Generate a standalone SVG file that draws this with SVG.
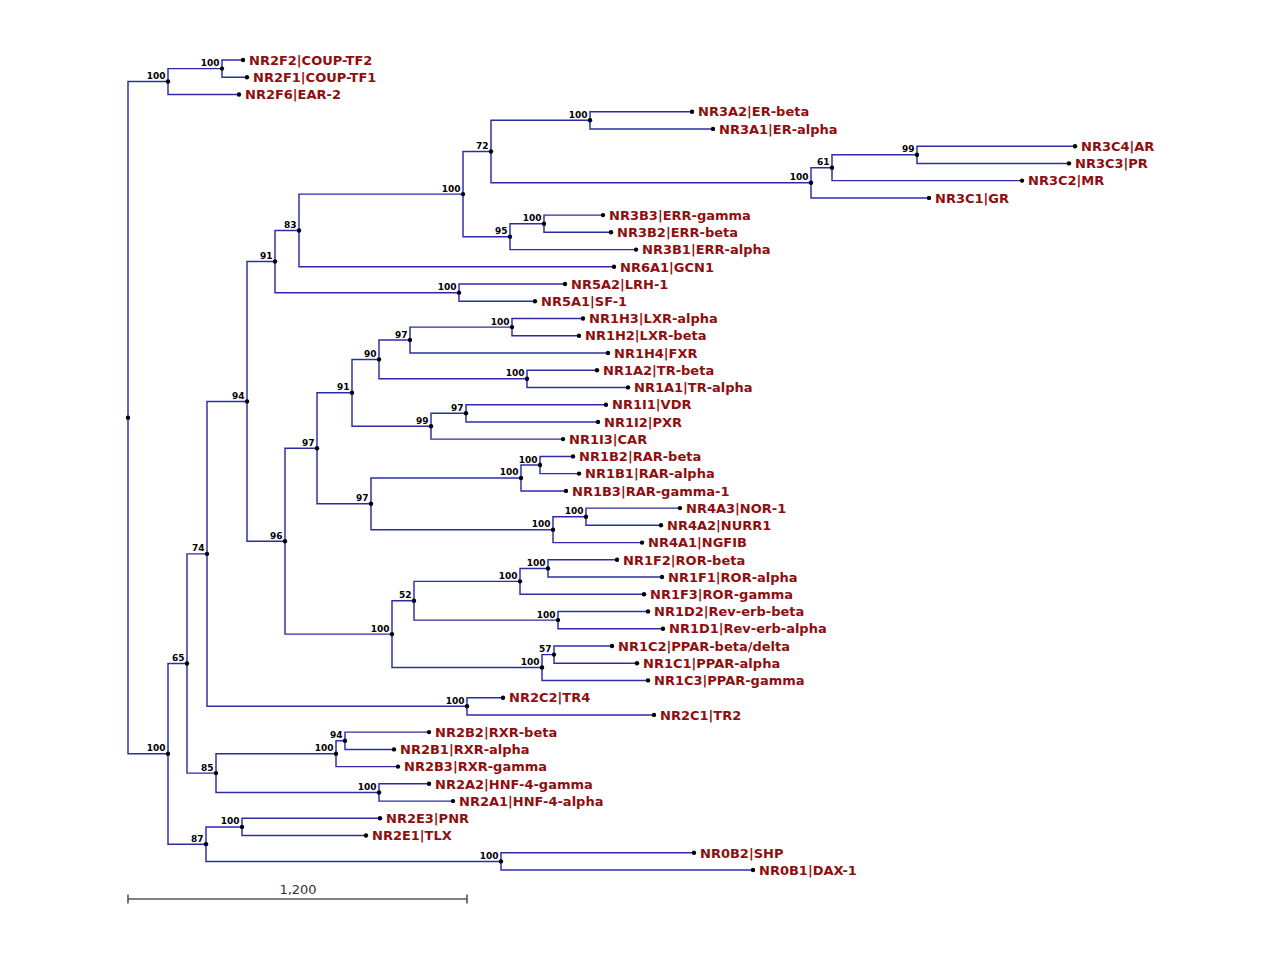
<svg xmlns="http://www.w3.org/2000/svg" width="1280" height="960" viewBox="0 0 1280 960">
<style>
.br{fill:none;stroke:#2c2ca8;stroke-width:1.45}
.dot{fill:#000}
.lf{font-family:"DejaVu Sans",sans-serif;font-weight:bold;font-size:13px;fill:#8f0e0e}
.bs{font-family:"DejaVu Sans",sans-serif;font-weight:bold;font-size:9px;fill:#000;text-anchor:end}
.sc{fill:none;stroke:#555;stroke-width:1.6}
.sct{font-family:"DejaVu Sans",sans-serif;font-size:13px;fill:#333;text-anchor:middle}
</style>
<rect width="1280" height="960" fill="#fff"/>
<g id="connectors">
<path class="br" d="M168,81.55 H128 V753.8 H168"/>
<path class="br" d="M222,68.6 H168 V94.5 H239"/>
<path class="br" d="M243,60 H222 V77.2 H247"/>
<path class="br" d="M187,663.5 H168 V844.15 H206"/>
<path class="br" d="M207,553.85 H187 V773.1 H216"/>
<path class="br" d="M247,401.4 H207 V706.3 H467"/>
<path class="br" d="M275,261.55 H247 V541.2 H285"/>
<path class="br" d="M299,230.45 H275 V292.65 H459"/>
<path class="br" d="M463,194.1 H299 V266.8 H614"/>
<path class="br" d="M491,151.55 H463 V236.65 H510"/>
<path class="br" d="M590,120.3 H491 V182.8 H811"/>
<path class="br" d="M692,111.7 H590 V128.9 H713"/>
<path class="br" d="M832,167.7 H811 V197.9 H929"/>
<path class="br" d="M917,154.8 H832 V180.6 H1022"/>
<path class="br" d="M1075,146.2 H917 V163.4 H1069"/>
<path class="br" d="M544,223.7 H510 V249.6 H636"/>
<path class="br" d="M603,215.1 H544 V232.3 H611"/>
<path class="br" d="M565,284 H459 V301.3 H535"/>
<path class="br" d="M317,448.3 H285 V634.1 H392"/>
<path class="br" d="M352,392.8 H317 V503.8 H371"/>
<path class="br" d="M379,359.4 H352 V426.2 H431"/>
<path class="br" d="M410,340.05 H379 V378.8 H527"/>
<path class="br" d="M512,327.1 H410 V353 H608"/>
<path class="br" d="M583,318.5 H512 V335.7 H579"/>
<path class="br" d="M597,370.2 H527 V387.4 H628"/>
<path class="br" d="M466,413.3 H431 V439.1 H563"/>
<path class="br" d="M606,404.7 H466 V421.9 H598"/>
<path class="br" d="M521,477.95 H371 V529.65 H553"/>
<path class="br" d="M540,465 H521 V490.9 H566"/>
<path class="br" d="M573,456.4 H540 V473.6 H579"/>
<path class="br" d="M586,516.7 H553 V542.6 H642"/>
<path class="br" d="M680,508.1 H586 V525.3 H661"/>
<path class="br" d="M414,600.7 H392 V667.5 H542"/>
<path class="br" d="M520,581.35 H414 V620.1 H558"/>
<path class="br" d="M548,568.4 H520 V594.3 H644"/>
<path class="br" d="M617,559.8 H548 V577 H662"/>
<path class="br" d="M648,611.5 H558 V628.7 H663"/>
<path class="br" d="M554,654.6 H542 V680.4 H648"/>
<path class="br" d="M612,646 H554 V663.2 H637"/>
<path class="br" d="M503,697.7 H467 V714.9 H654"/>
<path class="br" d="M336,753.7 H216 V792.45 H379"/>
<path class="br" d="M345,740.75 H336 V766.6 H398"/>
<path class="br" d="M429,732.1 H345 V749.4 H394"/>
<path class="br" d="M429,783.8 H379 V801.1 H453"/>
<path class="br" d="M242,826.9 H206 V861.4 H501"/>
<path class="br" d="M380,818.3 H242 V835.5 H366"/>
<path class="br" d="M694,852.8 H501 V870 H753"/>
</g>
<g id="internal-nodes">
<g id="n-root"><circle class="dot" cx="128" cy="417.7" r="2.2"/></g>
<g id="n-A"><circle class="dot" cx="168" cy="81.55" r="2.2"/><text class="bs" x="165.5" y="79">100</text></g>
<g id="n-B"><circle class="dot" cx="222" cy="68.6" r="2.2"/><text class="bs" x="219.5" y="66">100</text></g>
<g id="n-C"><circle class="dot" cx="168" cy="753.8" r="2.2"/><text class="bs" x="165.5" y="751.3">100</text></g>
<g id="n-D"><circle class="dot" cx="187" cy="663.5" r="2.2"/><text class="bs" x="184.5" y="661">65</text></g>
<g id="n-F"><circle class="dot" cx="207" cy="553.85" r="2.2"/><text class="bs" x="204.5" y="551.3">74</text></g>
<g id="n-M"><circle class="dot" cx="247" cy="401.4" r="2.2"/><text class="bs" x="244.5" y="398.9">94</text></g>
<g id="n-O"><circle class="dot" cx="275" cy="261.55" r="2.2"/><text class="bs" x="272.5" y="259">91</text></g>
<g id="n-Q"><circle class="dot" cx="299" cy="230.45" r="2.2"/><text class="bs" x="296.5" y="228">83</text></g>
<g id="n-S"><circle class="dot" cx="463" cy="194.1" r="2.2"/><text class="bs" x="460.5" y="191.6">100</text></g>
<g id="n-T"><circle class="dot" cx="491" cy="151.55" r="2.2"/><text class="bs" x="488.5" y="149">72</text></g>
<g id="n-V"><circle class="dot" cx="590" cy="120.3" r="2.2"/><text class="bs" x="587.5" y="117.8">100</text></g>
<g id="n-W"><circle class="dot" cx="811" cy="182.8" r="2.2"/><text class="bs" x="808.5" y="180.3">100</text></g>
<g id="n-X"><circle class="dot" cx="832" cy="167.7" r="2.2"/><text class="bs" x="829.5" y="165.2">61</text></g>
<g id="n-Y"><circle class="dot" cx="917" cy="154.8" r="2.2"/><text class="bs" x="914.5" y="152.3">99</text></g>
<g id="n-U"><circle class="dot" cx="510" cy="236.65" r="2.2"/><text class="bs" x="507.5" y="234.1">95</text></g>
<g id="n-Z"><circle class="dot" cx="544" cy="223.7" r="2.2"/><text class="bs" x="541.5" y="221.2">100</text></g>
<g id="n-R5"><circle class="dot" cx="459" cy="292.65" r="2.2"/><text class="bs" x="456.5" y="290.1">100</text></g>
<g id="n-P"><circle class="dot" cx="285" cy="541.2" r="2.2"/><text class="bs" x="282.5" y="538.7">96</text></g>
<g id="n-AA"><circle class="dot" cx="317" cy="448.3" r="2.2"/><text class="bs" x="314.5" y="445.8">97</text></g>
<g id="n-AC"><circle class="dot" cx="352" cy="392.8" r="2.2"/><text class="bs" x="349.5" y="390.3">91</text></g>
<g id="n-AE"><circle class="dot" cx="379" cy="359.4" r="2.2"/><text class="bs" x="376.5" y="356.9">90</text></g>
<g id="n-AG"><circle class="dot" cx="410" cy="340.05" r="2.2"/><text class="bs" x="407.5" y="337.5">97</text></g>
<g id="n-AI"><circle class="dot" cx="512" cy="327.1" r="2.2"/><text class="bs" x="509.5" y="324.6">100</text></g>
<g id="n-AH"><circle class="dot" cx="527" cy="378.8" r="2.2"/><text class="bs" x="524.5" y="376.3">100</text></g>
<g id="n-AF"><circle class="dot" cx="431" cy="426.2" r="2.2"/><text class="bs" x="428.5" y="423.7">99</text></g>
<g id="n-AJ"><circle class="dot" cx="466" cy="413.3" r="2.2"/><text class="bs" x="463.5" y="410.8">97</text></g>
<g id="n-AD"><circle class="dot" cx="371" cy="503.8" r="2.2"/><text class="bs" x="368.5" y="501.3">97</text></g>
<g id="n-AK"><circle class="dot" cx="521" cy="477.95" r="2.2"/><text class="bs" x="518.5" y="475.4">100</text></g>
<g id="n-AM"><circle class="dot" cx="540" cy="465" r="2.2"/><text class="bs" x="537.5" y="462.5">100</text></g>
<g id="n-AL"><circle class="dot" cx="553" cy="529.65" r="2.2"/><text class="bs" x="550.5" y="527.1">100</text></g>
<g id="n-AN"><circle class="dot" cx="586" cy="516.7" r="2.2"/><text class="bs" x="583.5" y="514.2">100</text></g>
<g id="n-AB"><circle class="dot" cx="392" cy="634.1" r="2.2"/><text class="bs" x="389.5" y="631.6">100</text></g>
<g id="n-AO"><circle class="dot" cx="414" cy="600.7" r="2.2"/><text class="bs" x="411.5" y="598.2">52</text></g>
<g id="n-AQ"><circle class="dot" cx="520" cy="581.35" r="2.2"/><text class="bs" x="517.5" y="578.8">100</text></g>
<g id="n-AS"><circle class="dot" cx="548" cy="568.4" r="2.2"/><text class="bs" x="545.5" y="565.9">100</text></g>
<g id="n-AR"><circle class="dot" cx="558" cy="620.1" r="2.2"/><text class="bs" x="555.5" y="617.6">100</text></g>
<g id="n-AP"><circle class="dot" cx="542" cy="667.5" r="2.2"/><text class="bs" x="539.5" y="665">100</text></g>
<g id="n-AT"><circle class="dot" cx="554" cy="654.6" r="2.2"/><text class="bs" x="551.5" y="652.1">57</text></g>
<g id="n-N"><circle class="dot" cx="467" cy="706.3" r="2.2"/><text class="bs" x="464.5" y="703.8">100</text></g>
<g id="n-G"><circle class="dot" cx="216" cy="773.1" r="2.2"/><text class="bs" x="213.5" y="770.6">85</text></g>
<g id="n-H"><circle class="dot" cx="336" cy="753.7" r="2.2"/><text class="bs" x="333.5" y="751.2">100</text></g>
<g id="n-J"><circle class="dot" cx="345" cy="740.75" r="2.2"/><text class="bs" x="342.5" y="738.2">94</text></g>
<g id="n-I"><circle class="dot" cx="379" cy="792.45" r="2.2"/><text class="bs" x="376.5" y="789.9">100</text></g>
<g id="n-E"><circle class="dot" cx="206" cy="844.15" r="2.2"/><text class="bs" x="203.5" y="841.6">87</text></g>
<g id="n-K"><circle class="dot" cx="242" cy="826.9" r="2.2"/><text class="bs" x="239.5" y="824.4">100</text></g>
<g id="n-L"><circle class="dot" cx="501" cy="861.4" r="2.2"/><text class="bs" x="498.5" y="858.9">100</text></g>
</g>
<g id="leaves">
<g id="NR2F2"><circle class="dot" cx="243" cy="60" r="2.2"/><text class="lf" x="249" y="64.7">NR2F2|COUP-TF2</text></g>
<g id="NR2F1"><circle class="dot" cx="247" cy="77.2" r="2.2"/><text class="lf" x="253" y="81.9">NR2F1|COUP-TF1</text></g>
<g id="NR2F6"><circle class="dot" cx="239" cy="94.5" r="2.2"/><text class="lf" x="245" y="99.2">NR2F6|EAR-2</text></g>
<g id="NR3A2"><circle class="dot" cx="692" cy="111.7" r="2.2"/><text class="lf" x="698" y="116.4">NR3A2|ER-beta</text></g>
<g id="NR3A1"><circle class="dot" cx="713" cy="128.9" r="2.2"/><text class="lf" x="719" y="133.6">NR3A1|ER-alpha</text></g>
<g id="NR3C4"><circle class="dot" cx="1075" cy="146.2" r="2.2"/><text class="lf" x="1081" y="150.9">NR3C4|AR</text></g>
<g id="NR3C3"><circle class="dot" cx="1069" cy="163.4" r="2.2"/><text class="lf" x="1075" y="168.1">NR3C3|PR</text></g>
<g id="NR3C2"><circle class="dot" cx="1022" cy="180.6" r="2.2"/><text class="lf" x="1028" y="185.3">NR3C2|MR</text></g>
<g id="NR3C1"><circle class="dot" cx="929" cy="197.9" r="2.2"/><text class="lf" x="935" y="202.6">NR3C1|GR</text></g>
<g id="NR3B3"><circle class="dot" cx="603" cy="215.1" r="2.2"/><text class="lf" x="609" y="219.8">NR3B3|ERR-gamma</text></g>
<g id="NR3B2"><circle class="dot" cx="611" cy="232.3" r="2.2"/><text class="lf" x="617" y="237">NR3B2|ERR-beta</text></g>
<g id="NR3B1"><circle class="dot" cx="636" cy="249.6" r="2.2"/><text class="lf" x="642" y="254.3">NR3B1|ERR-alpha</text></g>
<g id="NR6A1"><circle class="dot" cx="614" cy="266.8" r="2.2"/><text class="lf" x="620" y="271.5">NR6A1|GCN1</text></g>
<g id="NR5A2"><circle class="dot" cx="565" cy="284" r="2.2"/><text class="lf" x="571" y="288.7">NR5A2|LRH-1</text></g>
<g id="NR5A1"><circle class="dot" cx="535" cy="301.3" r="2.2"/><text class="lf" x="541" y="306">NR5A1|SF-1</text></g>
<g id="NR1H3"><circle class="dot" cx="583" cy="318.5" r="2.2"/><text class="lf" x="589" y="323.2">NR1H3|LXR-alpha</text></g>
<g id="NR1H2"><circle class="dot" cx="579" cy="335.7" r="2.2"/><text class="lf" x="585" y="340.4">NR1H2|LXR-beta</text></g>
<g id="NR1H4"><circle class="dot" cx="608" cy="353" r="2.2"/><text class="lf" x="614" y="357.7">NR1H4|FXR</text></g>
<g id="NR1A2"><circle class="dot" cx="597" cy="370.2" r="2.2"/><text class="lf" x="603" y="374.9">NR1A2|TR-beta</text></g>
<g id="NR1A1"><circle class="dot" cx="628" cy="387.4" r="2.2"/><text class="lf" x="634" y="392.1">NR1A1|TR-alpha</text></g>
<g id="NR1I1"><circle class="dot" cx="606" cy="404.7" r="2.2"/><text class="lf" x="612" y="409.4">NR1I1|VDR</text></g>
<g id="NR1I2"><circle class="dot" cx="598" cy="421.9" r="2.2"/><text class="lf" x="604" y="426.6">NR1I2|PXR</text></g>
<g id="NR1I3"><circle class="dot" cx="563" cy="439.1" r="2.2"/><text class="lf" x="569" y="443.8">NR1I3|CAR</text></g>
<g id="NR1B2"><circle class="dot" cx="573" cy="456.4" r="2.2"/><text class="lf" x="579" y="461.1">NR1B2|RAR-beta</text></g>
<g id="NR1B1"><circle class="dot" cx="579" cy="473.6" r="2.2"/><text class="lf" x="585" y="478.3">NR1B1|RAR-alpha</text></g>
<g id="NR1B3"><circle class="dot" cx="566" cy="490.9" r="2.2"/><text class="lf" x="572" y="495.6">NR1B3|RAR-gamma-1</text></g>
<g id="NR4A3"><circle class="dot" cx="680" cy="508.1" r="2.2"/><text class="lf" x="686" y="512.8">NR4A3|NOR-1</text></g>
<g id="NR4A2"><circle class="dot" cx="661" cy="525.3" r="2.2"/><text class="lf" x="667" y="530">NR4A2|NURR1</text></g>
<g id="NR4A1"><circle class="dot" cx="642" cy="542.6" r="2.2"/><text class="lf" x="648" y="547.3">NR4A1|NGFIB</text></g>
<g id="NR1F2"><circle class="dot" cx="617" cy="559.8" r="2.2"/><text class="lf" x="623" y="564.5">NR1F2|ROR-beta</text></g>
<g id="NR1F1"><circle class="dot" cx="662" cy="577" r="2.2"/><text class="lf" x="668" y="581.7">NR1F1|ROR-alpha</text></g>
<g id="NR1F3"><circle class="dot" cx="644" cy="594.3" r="2.2"/><text class="lf" x="650" y="599">NR1F3|ROR-gamma</text></g>
<g id="NR1D2"><circle class="dot" cx="648" cy="611.5" r="2.2"/><text class="lf" x="654" y="616.2">NR1D2|Rev-erb-beta</text></g>
<g id="NR1D1"><circle class="dot" cx="663" cy="628.7" r="2.2"/><text class="lf" x="669" y="633.4">NR1D1|Rev-erb-alpha</text></g>
<g id="NR1C2"><circle class="dot" cx="612" cy="646" r="2.2"/><text class="lf" x="618" y="650.7">NR1C2|PPAR-beta/delta</text></g>
<g id="NR1C1"><circle class="dot" cx="637" cy="663.2" r="2.2"/><text class="lf" x="643" y="667.9">NR1C1|PPAR-alpha</text></g>
<g id="NR1C3"><circle class="dot" cx="648" cy="680.4" r="2.2"/><text class="lf" x="654" y="685.1">NR1C3|PPAR-gamma</text></g>
<g id="NR2C2"><circle class="dot" cx="503" cy="697.7" r="2.2"/><text class="lf" x="509" y="702.4">NR2C2|TR4</text></g>
<g id="NR2C1"><circle class="dot" cx="654" cy="714.9" r="2.2"/><text class="lf" x="660" y="719.6">NR2C1|TR2</text></g>
<g id="NR2B2"><circle class="dot" cx="429" cy="732.1" r="2.2"/><text class="lf" x="435" y="736.8">NR2B2|RXR-beta</text></g>
<g id="NR2B1"><circle class="dot" cx="394" cy="749.4" r="2.2"/><text class="lf" x="400" y="754.1">NR2B1|RXR-alpha</text></g>
<g id="NR2B3"><circle class="dot" cx="398" cy="766.6" r="2.2"/><text class="lf" x="404" y="771.3">NR2B3|RXR-gamma</text></g>
<g id="NR2A2"><circle class="dot" cx="429" cy="783.8" r="2.2"/><text class="lf" x="435" y="788.5">NR2A2|HNF-4-gamma</text></g>
<g id="NR2A1"><circle class="dot" cx="453" cy="801.1" r="2.2"/><text class="lf" x="459" y="805.8">NR2A1|HNF-4-alpha</text></g>
<g id="NR2E3"><circle class="dot" cx="380" cy="818.3" r="2.2"/><text class="lf" x="386" y="823">NR2E3|PNR</text></g>
<g id="NR2E1"><circle class="dot" cx="366" cy="835.5" r="2.2"/><text class="lf" x="372" y="840.2">NR2E1|TLX</text></g>
<g id="NR0B2"><circle class="dot" cx="694" cy="852.8" r="2.2"/><text class="lf" x="700" y="857.5">NR0B2|SHP</text></g>
<g id="NR0B1"><circle class="dot" cx="753" cy="870" r="2.2"/><text class="lf" x="759" y="874.7">NR0B1|DAX-1</text></g>
</g>
<g id="scale-bar">
<path class="sc" d="M128,899 H467 M128,894.5 V903.5 M467,894.5 V903.5"/>
<text class="sct" x="298" y="894">1,200</text>
</g>
</svg>
